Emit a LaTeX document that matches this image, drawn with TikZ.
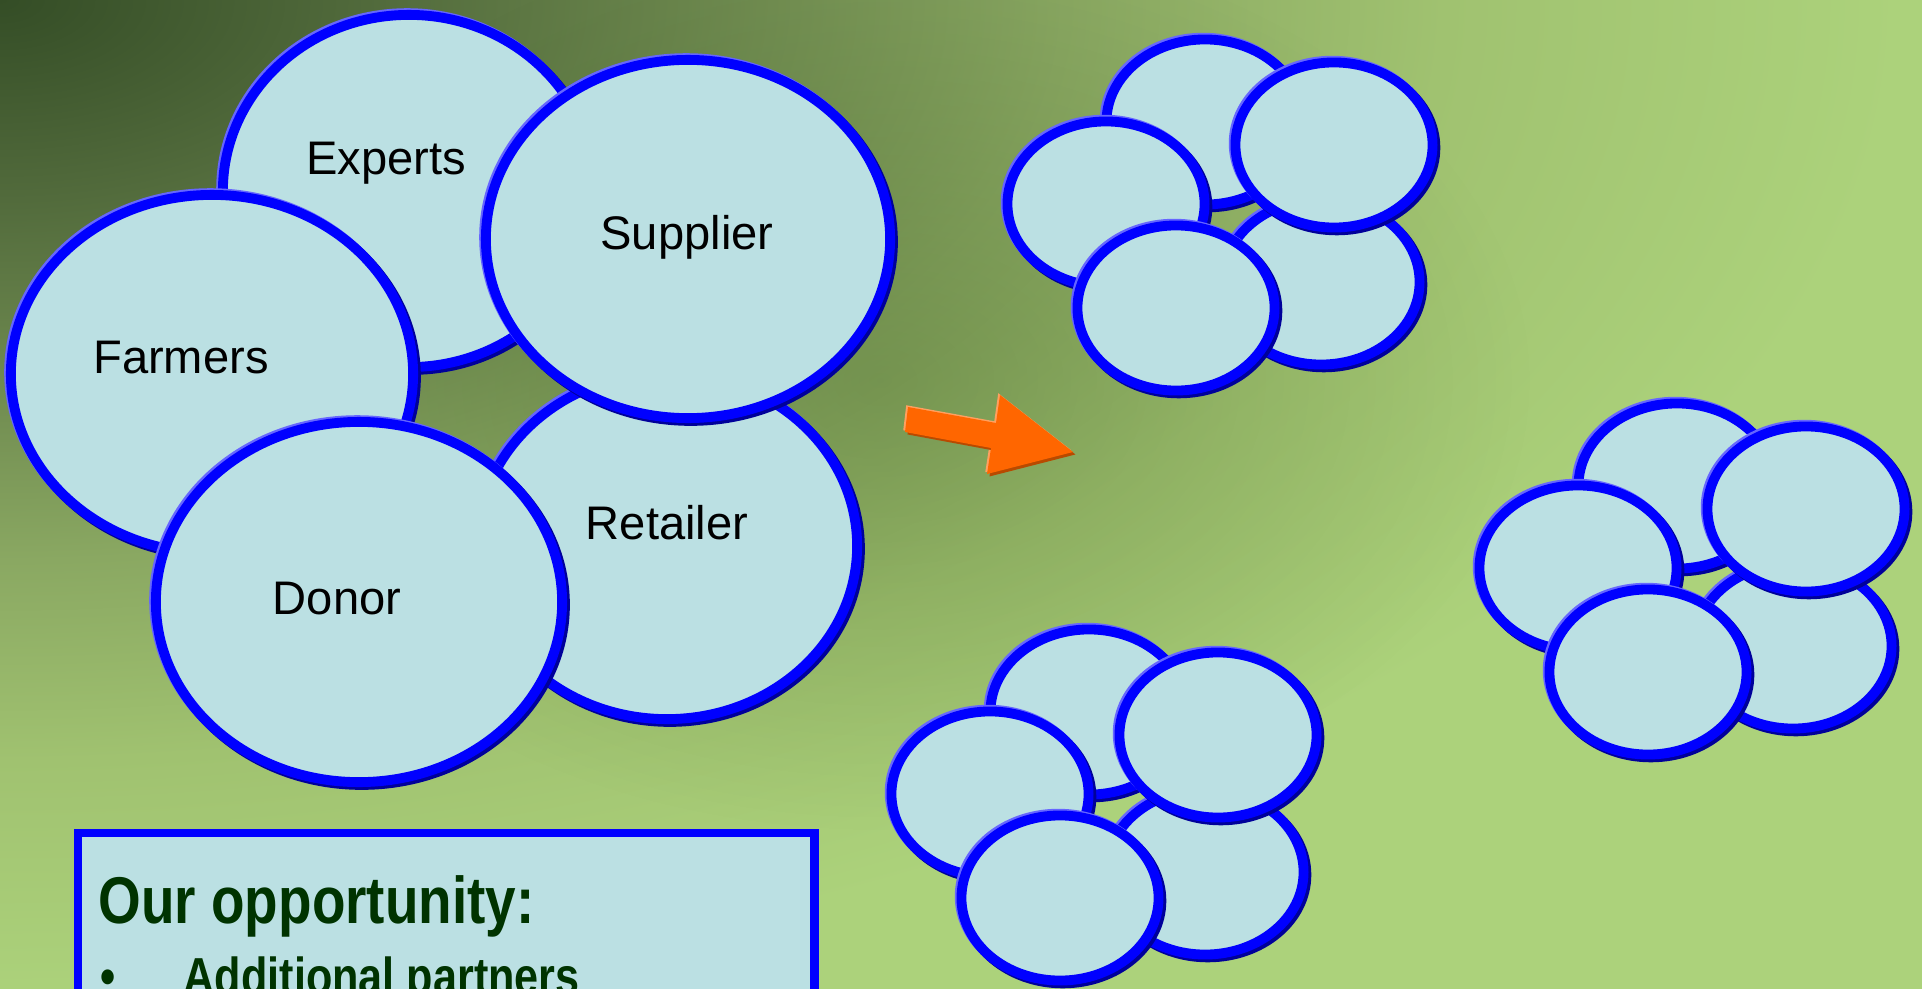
\documentclass[tikz,border=0pt]{standalone}
\usepackage{fontspec}
\setmainfont{Liberation Sans}
\newfontfamily\narrowfont[FakeStretch=0.83]{Liberation Sans}
\usetikzlibrary{shapes.geometric,fadings}
\definecolor{cellfill}{HTML}{BBE0E3}
\definecolor{cellblue}{HTML}{0000FF}
\definecolor{cellshade}{HTML}{00009A}
\definecolor{cellglint}{HTML}{6666FF}
\definecolor{bgdark}{HTML}{344D26}
\definecolor{bgmid}{HTML}{526B3C}
\definecolor{bggreen}{HTML}{8AA862}
\definecolor{bgpale}{HTML}{A0C270}
\definecolor{bglight}{HTML}{ACD27B}
\definecolor{haze}{HTML}{3A5A20}
\definecolor{arroworange}{HTML}{FF6600}
\definecolor{arrowdark}{HTML}{B84A00}
\definecolor{arrowpale}{HTML}{FFA060}
\definecolor{oppgreen}{HTML}{003300}
\pgfdeclareradialshading{meadow}{\pgfpoint{0bp}{0bp}}{color(0bp)=(bgdark); color(2.56bp)=(bgmid); color(7.18bp)=(bggreen); color(9.74bp)=(bgpale); color(12.82bp)=(bglight); color(50bp)=(bglight)}
\tikzfading[name=halo, inner color=transparent!0, outer color=transparent!100]
\tikzset{
	cell/.style={ellipse, draw=cellblue, fill=cellfill, line width=2.8pt, inner sep=0pt,
		preaction={draw=cellglint, line width=2.8pt, transform canvas={shift={(-0.5pt,0.5pt)}}},
		preaction={draw=cellshade, line width=2.8pt, transform canvas={shift={(0.8pt,-0.8pt)}}}},
	small/.style={cell, minimum width=1.97cm, minimum height=1.65cm},
	word/.style={anchor=base, inner sep=0pt, font=\fontsize{13.4}{15}\selectfont},
	opptext/.style={anchor=base west, inner sep=0pt, text=oppgreen}
}
\begin{document}
\begin{tikzpicture}[x=0.01cm, y=-0.01cm]
			\useasboundingbox (0,0) rectangle (1922,988);
			\clip (0,0) rectangle (1922,988);
			\shade[shading=meadow] (0,0) ellipse [x radius=37.05cm, y radius=19.5cm];
			\fill[haze, path fading=halo, fill opacity=0.3] (880,380) ellipse [x radius=6.5cm, y radius=4.5cm];

			\node[cell, minimum width=3.72cm, minimum height=3.52cm] (experts) at (409,191) {};
			\node[cell, minimum width=4.02cm, minimum height=3.58cm] (farmers) at (212,374) {};
			\node[cell, minimum width=3.80cm, minimum height=3.46cm] (retailer) at (667,546) {};
			\node[cell, minimum width=4.04cm, minimum height=3.58cm] (supplier) at (688,239) {};
			\node[cell, minimum width=4.06cm, minimum height=3.60cm] (donor) at (359,602) {};
			\node[word] (lexperts) at (386,174) {Experts};
			\node[word] (lsupplier) at (687,249) {Supplier};
			\node[word] (lfarmers) at (181,373) {Farmers};
			\node[word] (lretailer) at (667,539) {Retailer};
			\node[word] (ldonor) at (337,614) {Donor};

			\fill[arroworange,
				preaction={fill=arrowpale, transform canvas={shift={(-0.5pt,0.5pt)}}},
				preaction={fill=arrowdark, transform canvas={shift={(0.7pt,-0.7pt)}}}]
				(908,407) -- (996,423) -- (1000,395) -- (1073,452) -- (987,474) -- (991,448) -- (905,432) -- cycle;

			\node[small] (t1) at (1205,122) {};
			\node[small] (t4) at (1321,282) {};
			\node[small] (t3) at (1106,204) {};
			\node[small] (t2) at (1334,145) {};
			\node[small] (t5) at (1176,308) {};

			\node[small] (r1) at (1677,486) {};
			\node[small] (r4) at (1793,646) {};
			\node[small] (r3) at (1578,568) {};
			\node[small] (r2) at (1806,509) {};
			\node[small] (r5) at (1648,672) {};

			\node[small] (b1) at (1089,712) {};
			\node[small] (b4) at (1205,872) {};
			\node[small] (b3) at (990,794) {};
			\node[small] (b2) at (1218,735) {};
			\node[small] (b5) at (1060,898) {};

			\node[draw=cellblue, fill=cellfill, line width=2.55pt, anchor=north west, inner sep=0pt,
				minimum width=7.36cm, minimum height=2cm] (opp) at (73.5,828.5) {};
			\node[opptext, font=\narrowfont\bfseries\fontsize{18.8}{22}\selectfont] (title) at (98,923) {Our opportunity:};
			\node[opptext, anchor=base, font=\narrowfont\bfseries\fontsize{14.8}{17}\selectfont] (dot) at (108,994) {\textbullet};
			\node[opptext, font=\narrowfont\bfseries\fontsize{14.8}{17}\selectfont] (partners) at (183,994) {Additional partners};
\end{tikzpicture}
\end{document}
